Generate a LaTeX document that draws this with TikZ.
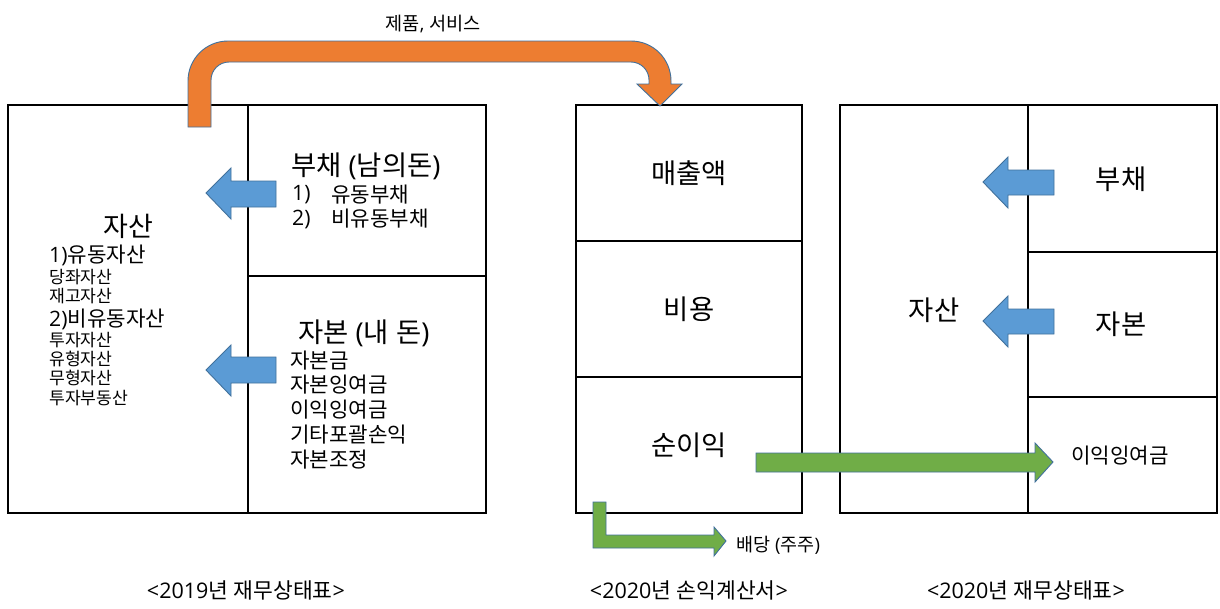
\documentclass[tikz,border=0pt]{standalone}
\usepackage{fontspec}
\setmainfont{Noto Sans CJK KR}
\newfontfamily\latf{Open Sans}
\newcommand\lt[1]{{\latf #1}}
\definecolor{orangefill}{HTML}{ED7D31}
\definecolor{bluefill}{HTML}{5B9BD5}
\definecolor{greenfill}{HTML}{70AD47}
\definecolor{arrowline}{HTML}{41719C}
\begin{document}
\begin{tikzpicture}[x=1pt,y=-1pt,
  box/.style={draw=black,line width=1.3pt},
  blk/.style={draw=arrowline,line width=0.9pt},
  txt/.style={inner sep=0pt,anchor=west,text=black},
  ctxt/.style={inner sep=0pt,anchor=center,text=black},
  big/.style={font=\fontsize{27.4}{30}\selectfont},
  mid/.style={font=\fontsize{21.2}{24}\selectfont},
  sml/.style={font=\fontsize{17.2}{20}\selectfont},
  captxt/.style={font=\fontsize{21.5}{24}\selectfont}]
\useasboundingbox (0,0) rectangle (1220,608);
\fill[white] (0,0) rectangle (1220,608);
% left statement
\draw[box] (8,105) rectangle (486,513);
\draw[box] (248,105) -- (248,513);
\draw[box] (248,276) -- (486,276);
% middle statement
\draw[box] (576,105) rectangle (802,513);
\draw[box] (576,241) -- (802,241);
\draw[box] (576,377) -- (802,377);
% right statement
\draw[box] (840,105) rectangle (1217,513);
\draw[box] (1028,105) -- (1028,513);
\draw[box] (1028,252) -- (1217,252);
\draw[box] (1028,397) -- (1217,397);
% orange U arrow
\draw[blk,fill=orangefill] (188,127) -- (188,81) .. controls (188,58.9) and (205.9,41) .. (228,41)
 -- (631,41) .. controls (653.1,41) and (671,58.9) .. (671,81)
 -- (671,84) -- (682,84) -- (660,106) -- (637,84) -- (649,84) -- (649,80)
 .. controls (649,70.1) and (640.9,62) .. (631,62)
 -- (229,62) .. controls (219.1,62) and (211,70.1) .. (211,80)
 -- (211,127) -- cycle;
% blue arrows left
\draw[blk,fill=bluefill] (276,181) -- (231,181) -- (231,168) -- (206,193) -- (231,219) -- (231,207) -- (276,207) -- cycle;
\draw[blk,fill=bluefill] (276,357) -- (231,357) -- (231,345) -- (206,370) -- (231,396) -- (231,383) -- (276,383) -- cycle;
% blue arrows right
\draw[blk,fill=bluefill] (1054,170) -- (1008,170) -- (1008,157) -- (983,182) -- (1008,208) -- (1008,195) -- (1054,195) -- cycle;
\draw[blk,fill=bluefill] (1054,309) -- (1008,309) -- (1008,296) -- (983,321) -- (1008,347) -- (1008,334) -- (1054,334) -- cycle;
% green arrows
\draw[blk,fill=greenfill] (756,453) -- (1035,453) -- (1035,443) -- (1053,462) -- (1035,482) -- (1035,472) -- (756,472) -- cycle;
\draw[blk,fill=greenfill] (593,502) -- (606,502) -- (606,535) -- (714,535) -- (714,527) -- (726,541) -- (714,556) -- (714,548) -- (593,548) -- cycle;
% texts
\node[ctxt,font=\fontsize{18.6}{21}\selectfont] (t0) at (433,24) {제품\lt{, }서비스};
\node[txt,big] (t1) at (291,166) {부채\lt{ (}남의돈\lt{)}};
\node[txt,mid] (t2) at (292,195) {\lt{1)}};
\node[txt,mid] (t3) at (331,195) {유동부채};
\node[txt,mid] (t4) at (292,219) {\lt{2)}};
\node[txt,mid] (t5) at (331,219) {비유동부채};
\node[ctxt,font=\fontsize{27}{30}\selectfont] (a0) at (128,226) {자산};
\node[txt,mid] (a1) at (49,255) {\lt{1)}유동자산};
\node[txt,sml] (a2) at (49,277) {당좌자산};
\node[txt,sml] (a3) at (49,296) {재고자산};
\node[txt,mid] (a4) at (49,319) {\lt{2)}비유동자산};
\node[txt,sml] (a5) at (49,340) {투자자산};
\node[txt,sml] (a6) at (49,359) {유형자산};
\node[txt,sml] (a7) at (49,378) {무형자산};
\node[txt,sml] (a8) at (49,398) {투자부동산};
\node[txt,big] (c0) at (298,333) {자본\lt{ (}내\lt{ }돈\lt{)}};
\node[txt,mid] (c1) at (290,361) {자본금};
\node[txt,mid] (c2) at (290,385) {자본잉여금};
\node[txt,mid] (c3) at (290,410) {이익잉여금};
\node[txt,mid] (c4) at (290,435) {기타포괄손익};
\node[txt,mid] (c5) at (290,460) {자본조정};
\node[ctxt,big] (m1) at (689,173) {매출액};
\node[ctxt,big] (m2) at (689,309) {비용};
\node[ctxt,big] (m3) at (689,445) {순이익};
\node[ctxt,big] (r1) at (1121,179) {부채};
\node[ctxt,big] (r2) at (934,310) {자산};
\node[ctxt,big] (r3) at (1121,324) {자본};
\node[ctxt,mid] (r4) at (1120,456) {이익잉여금};
\node[txt,font=\fontsize{18.5}{21}\selectfont] (d1) at (736,545) {배당\lt{ (}주주\lt{)}};
\node[ctxt,captxt] (s1) at (246,590) {\lt{<2019}년\lt{ }재무상태표\lt{>}};
\node[ctxt,captxt] (s2) at (689,590) {\lt{<2020}년\lt{ }손익계산서\lt{>}};
\node[ctxt,captxt] (s3) at (1026,590) {\lt{<2020}년\lt{ }재무상태표\lt{>}};
\end{tikzpicture}
\end{document}
